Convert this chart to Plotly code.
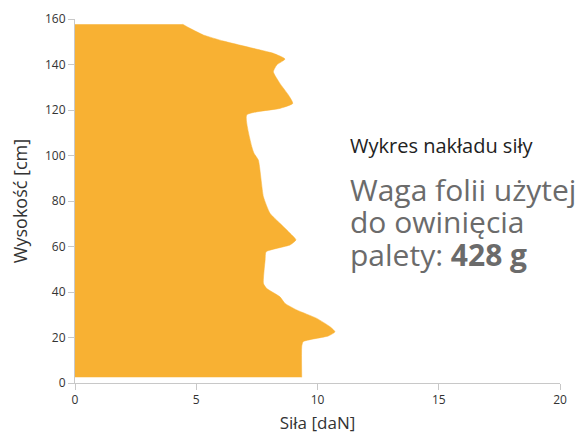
import plotly.graph_objects as go

# force profile along pallet height
height_cm = [2.5, 16, 18.2, 20.7, 22.5, 24.7, 28.4, 32.1, 35, 37.9, 41.6, 43.8,
             54, 57.7, 60.7, 62.9, 65.8, 70.2, 74.6, 81.9, 98, 101, 103.9,
             117.8, 120.7, 122.9, 126.6, 131.7, 136.8, 139.8, 142.4, 144.9,
             147.1, 150.3, 153, 155.9, 157.7]
force_dan = [9.35, 9.35, 9.41, 10.45, 10.72, 10.52, 9.97, 9.14, 8.66, 8.45, 7.9, 7.77,
             7.84, 7.88, 8.87, 9.11, 8.87, 8.45, 8.04, 7.77, 7.56, 7.38, 7.29,
             7.08, 8.45, 8.98, 8.8, 8.45, 8.18, 8.32, 8.66, 8.18,
             7.35, 6.12, 5.29, 4.74, 4.44]

x_ticks = [0, 5, 10, 15, 20]
y_ticks = [0, 20, 40, 60, 80, 100, 120, 140, 160]

title_text = 'Wykres nakładu siły'
info_lines = ['Waga folii użytej', 'do owinięcia', 'palety: <b>428 g</b>']

ORANGE = '#F8B133'
FONT = 'Open Sans, sans-serif'

fig = go.Figure()

fig.add_trace(go.Scatter(
    x=force_dan,
    y=height_cm,
    mode='lines',
    fill='tozerox',
    fillcolor=ORANGE,
    line=dict(color=ORANGE, width=0.5, shape='spline', smoothing=0.5),
    hoverinfo='skip',
    showlegend=False
))

axis_style = dict(
    showgrid=False,
    zeroline=False,
    showline=True,
    linecolor='#c8c8c8',
    linewidth=1,
    ticks='outside',
    ticklen=6,
    tickcolor='#c8c8c8',
    automargin=False,
    tickfont=dict(family=FONT, size=12, color='#333333'),
)

# text block on the right
annotations = [dict(
    text=title_text,
    xref='paper', yref='paper',
    x=0.563, y=0.652,
    xanchor='left', yanchor='middle',
    showarrow=False,
    font=dict(family=FONT, size=20, color='#222222')
)]
for line, ypos in zip(info_lines, [0.532, 0.444, 0.352]):
    annotations.append(dict(
        text=line,
        xref='paper', yref='paper',
        x=0.563, y=ypos,
        xanchor='left', yanchor='middle',
        align='left',
        showarrow=False,
        font=dict(family=FONT, size=30, color='#6b6b6b')
    ))

# page body has an 8px margin, so the figure is shrunk by that much
fig.update_layout(
    width=576,
    height=426,
    margin=dict(l=67, r=24, t=11, b=51),
    plot_bgcolor='white',
    paper_bgcolor='white',
    font=dict(family=FONT),
    xaxis=dict(
        range=[0, 20],
        tickvals=x_ticks,
        title=dict(text='Siła [daN]', font=dict(family=FONT, size=17, color='#333333'),
                   standoff=12),
        **axis_style
    ),
    yaxis=dict(
        range=[0, 160],
        tickvals=y_ticks,
        title=dict(text='Wysokość [cm]', font=dict(family=FONT, size=18, color='#333333'),
                   standoff=13),
        **axis_style
    ),
    annotations=annotations
)

fig.write_html("out.html")
